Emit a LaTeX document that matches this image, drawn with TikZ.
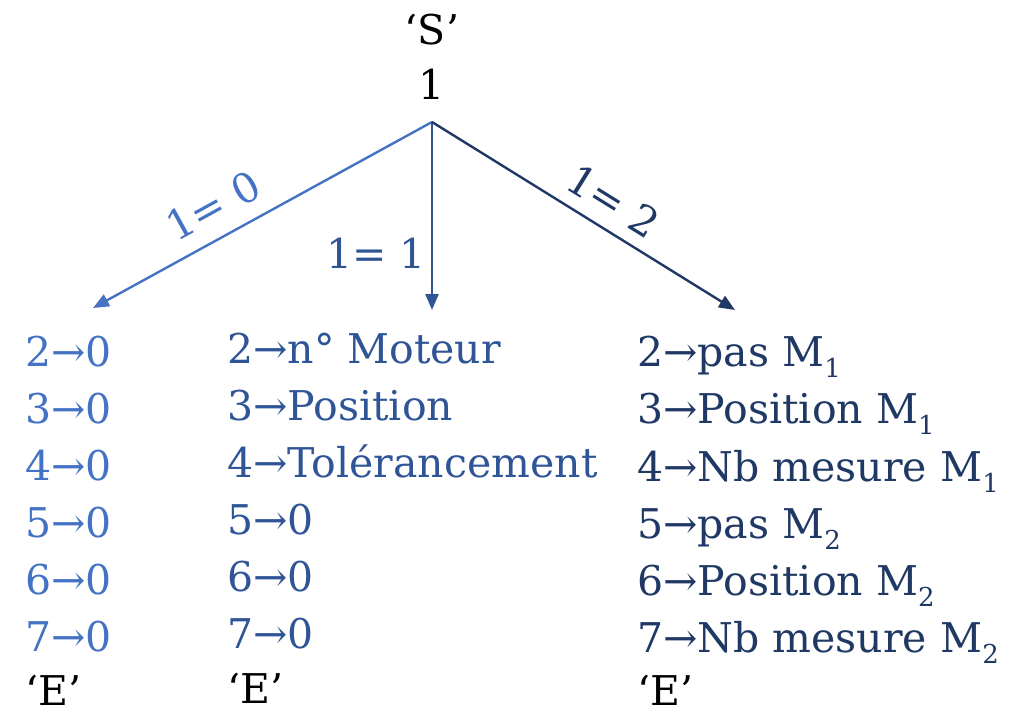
\documentclass[tikz,border=0pt]{standalone}
\usepackage{fontspec}
\setmainfont{DejaVu Serif}
\usetikzlibrary{arrows.meta}
\definecolor{cA}{HTML}{4472C4}
\definecolor{cB}{HTML}{2F5597}
\definecolor{cC}{HTML}{203864}
\newcommand{\subsc}[1]{\raisebox{-0.28em}{\fontsize{26}{26}\selectfont #1}}
\tikzset{
  txt/.style={anchor=base west, inner sep=0pt, font=\fontsize{41}{50}\selectfont},
  ctr/.style={anchor=base, inner sep=0pt, font=\fontsize{41}{50}\selectfont},
  lbl/.style={inner sep=0pt, font=\fontsize{41}{50}\selectfont},
  arr/.style={line width=2.4pt, -{Triangle[length=16pt,width=13pt]}},
}
\begin{document}
\begin{tikzpicture}[x=1pt,y=1pt]
\useasboundingbox (0,0) rectangle (1012,-714);
\node[ctr] (S) at (432,-45) {‘S’};
\node[ctr] (one) at (432,-100) {1};
\coordinate (apex) at (432,-122);
\coordinate (tL) at (93,-308);
\coordinate (tM) at (432,-310);
\coordinate (tR) at (735,-310);
\draw[arr, cA] (apex) -- (tL) node[pos=0.6, sloped, above=15pt, lbl] (lA) {1= 0};
\draw[arr, cB] (apex) -- (tM);
\node[anchor=base east, lbl, text=cB] (lB) at (426,-268) {1= 1};
\draw[arr, cC] (apex) -- (tR) node[pos=0.55, sloped, above=12pt, lbl] (lC) {1= 2};
% left column
\begin{scope}[cA]
\node[txt] (a2) at (25,-366) {2→0};
\node[txt] (a3) at (25,-423) {3→0};
\node[txt] (a4) at (25,-480) {4→0};
\node[txt] (a5) at (25,-537) {5→0};
\node[txt] (a6) at (25,-594) {6→0};
\node[txt] (a7) at (25,-651) {7→0};
\end{scope}
\node[txt] (aE) at (25,-705) {‘E’};
% middle column
\begin{scope}[cB]
\node[txt] (b2) at (227,-363) {2→n° Moteur};
\node[txt] (b3) at (227,-420) {3→Position};
\node[txt] (b4) at (227,-477) {4→Tolérancement};
\node[txt] (b5) at (227,-534) {5→0};
\node[txt] (b6) at (227,-591) {6→0};
\node[txt] (b7) at (227,-648) {7→0};
\end{scope}
\node[txt] (bE) at (227,-703) {‘E’};
% right column
\begin{scope}[cC]
\node[txt] (c2) at (637,-366) {2→pas M\subsc{1}};
\node[txt] (c3) at (637,-423) {3→Position M\subsc{1}};
\node[txt] (c4) at (637,-481) {4→Nb mesure M\subsc{1}};
\node[txt] (c5) at (637,-538) {5→pas M\subsc{2}};
\node[txt] (c6) at (637,-595) {6→Position M\subsc{2}};
\node[txt] (c7) at (637,-652) {7→Nb mesure M\subsc{2}};
\end{scope}
\node[txt] (cE) at (637,-705) {‘E’};
\end{tikzpicture}
\end{document}
